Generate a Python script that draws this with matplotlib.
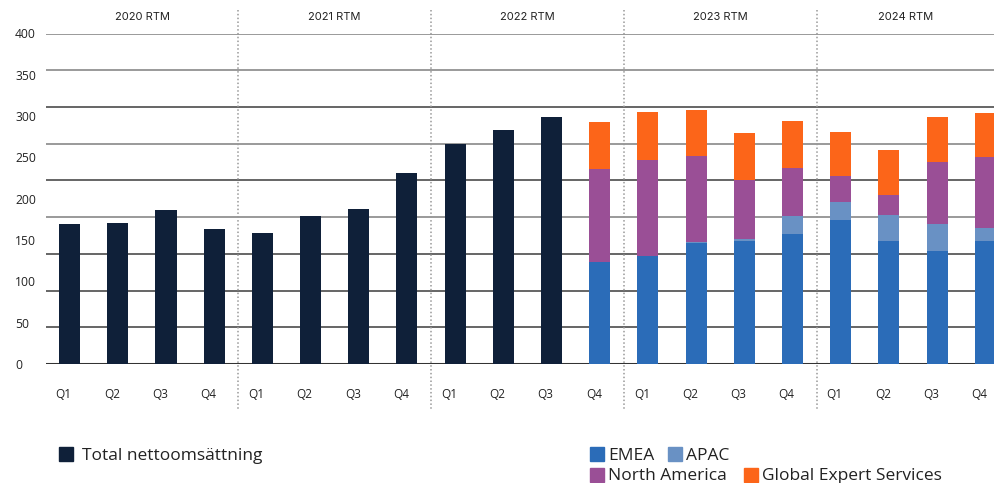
import numpy as np
import matplotlib
matplotlib.use('Agg')
import matplotlib.pyplot as plt
from matplotlib.patches import Rectangle
from matplotlib.transforms import ScaledTranslation, blended_transform_factory

plt.rcParams['font.family'] = ['Open Sans', 'DejaVu Sans']

# quarters, 2020 Q1 .. 2024 Q4
quarters = ['Q1', 'Q2', 'Q3', 'Q4'] * 5
years = ['2020 RTM', '2021 RTM', '2022 RTM', '2023 RTM', '2024 RTM']

# total net sales, 2020 Q1 .. 2022 Q3
total = [169.5, 170.7, 186.4, 163.4, 158.6, 179.2, 187.7, 231.2, 266.3, 283.3, 299.0]

# segment split, 2022 Q4 .. 2024 Q4
emea = [123.5, 131.1, 146.5, 148.9, 157.4, 174.3, 148.9, 136.8, 148.9]
apac = [0.0, 0.0, 1.6, 2.4, 21.8, 21.8, 31.5, 32.7, 15.7]
north_america = [112.6, 115.9, 103.7, 71.4, 58.1, 31.5, 24.2, 75.0, 85.9]
ges = [56.9, 58.1, 55.7, 56.9, 56.9, 53.3, 54.5, 54.5, 53.3]

yticks = [0, 50, 100, 150, 200, 250, 300, 350, 400]

c_total = '#0f2039'
c_emea = '#2b6cb8'
c_apac = '#6991c4'
c_na = '#9a4f96'
c_ges = '#fc6519'

W, H = 994, 483
fig = plt.figure(figsize=(W / 100, H / 100), dpi=100)
ax = fig.add_axes([46 / W, (H - 364) / H, (W - 46) / W, (364 - 33.5) / H])

x_tot = np.arange(len(total))
x_seg = np.arange(len(total), len(total) + len(emea))
bw = 0.436

# gridlines (drawn at 9 equal steps, independent of the tick labels)
for k, gy in enumerate(np.linspace(0, 400, 10)):
    if k == 0:
        ax.axhline(gy, color='#333333', lw=2.2, zorder=1)
    elif k in (4, 6, 8, 9):
        ax.axhline(gy, color='#9a9a9a', lw=1.4, zorder=1)
    else:
        ax.axhline(gy, color='#3c3c3c', lw=1.1, zorder=1)

ax.bar(x_tot, total, bw, color=c_total, zorder=2)
emea = np.array(emea)
apac = np.array(apac)
north_america = np.array(north_america)
ges = np.array(ges)
ax.bar(x_seg, emea, bw, color=c_emea, zorder=2)
ax.bar(x_seg, apac, bw, bottom=emea, color=c_apac, zorder=2)
ax.bar(x_seg, north_america, bw, bottom=emea + apac, color=c_na, zorder=2)
ax.bar(x_seg, ges, bw, bottom=emea + apac + north_america, color=c_ges, zorder=2)

ax.set_xlim(-0.49, 19.18)
ax.set_ylim(0, 400)
for s in ax.spines.values():
    s.set_visible(False)

ax.set_xticks(np.arange(20))
ax.set_xticklabels(quarters, fontsize=8.5, color='#222222')
ax.tick_params(axis='x', length=0, pad=17)
off = ScaledTranslation(-6 / 100, 0, fig.dpi_scale_trans)
for lbl in ax.get_xticklabels():
    lbl.set_transform(lbl.get_transform() + off)

ax.set_yticks(yticks)
ax.set_yticklabels([str(v) for v in yticks], fontsize=8.7, color='#222222', ha='left')
ax.tick_params(axis='y', length=0, pad=31 * 72 / 100)

# year separators and headers
trans = blended_transform_factory(ax.transData, ax.transAxes)
for i in range(1, 5):
    xs = i * 4 - 0.5
    ax.plot([xs, xs], [1.071, -0.139], transform=trans, color='#999999',
            lw=1.1, ls=(0, (1, 1.5)), clip_on=False, zorder=3)
bounds = [-0.49, 3.5, 7.5, 11.5, 15.5, 19.18]
for i, yr in enumerate(years):
    ax.text((bounds[i] + bounds[i + 1]) / 2, 1.05, yr, transform=trans,
            ha='center', va='center', fontsize=8, color='#222222', family=['Inter', 'DejaVu Sans'])

# legends
def legend_item(x, y, color, text, gap=18):
    fig.patches.append(Rectangle((x / W, (H - y - 7) / H), 14 / W, 14 / H,
                                 color=color, transform=fig.transFigure))
    fig.text((x + gap) / W, (H - y - 2) / H, text, fontsize=12.5, va='center', color='#222222')

legend_item(59, 454, c_total, 'Total nettoomsättning', gap=23)
legend_item(590, 454, c_emea, 'EMEA')
legend_item(668, 454, c_apac, 'APAC')
legend_item(590, 474.5, c_na, 'North America')
legend_item(744, 474.5, c_ges, 'Global Expert Services')

fig.savefig('out.png', dpi=100)
